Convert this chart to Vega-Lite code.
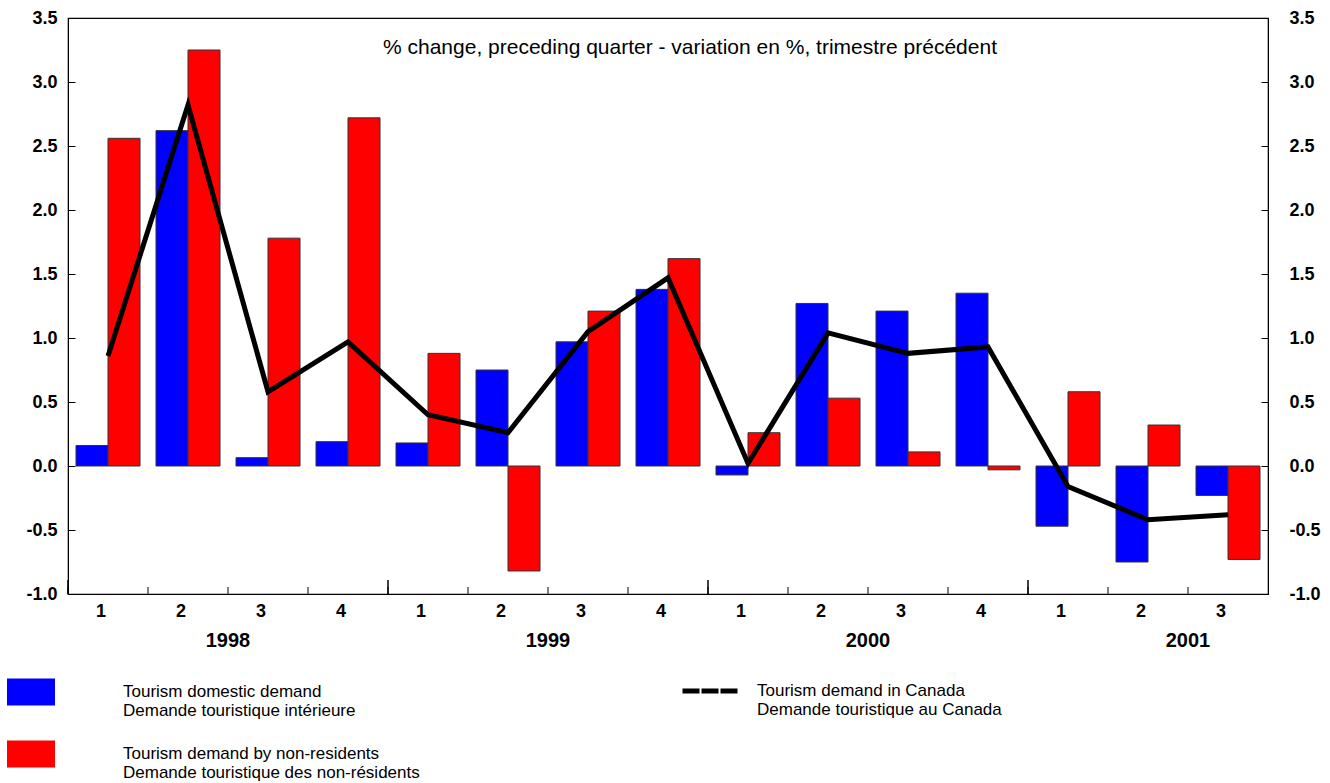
{
  "$schema": "https://vega.github.io/schema/vega-lite/v6.json",
  "width": 1200,
  "height": 576,
  "autosize": {"type": "none"},
  "padding": {"left": 68, "top": 18, "right": 62, "bottom": 189},
  "background": "white",
  "config": {
    "view": {"stroke": "black", "strokeWidth": 1.2},
    "font": "Liberation Sans",
    "axis": {"domainColor": "black", "tickColor": "black", "labelColor": "black", "labelFont": "Liberation Sans", "labelFontWeight": "bold", "grid": false}
  },
  "title": {
    "text": "% change, preceding quarter - variation en %, trimestre précédent",
    "font": "Liberation Sans",
    "fontSize": 21,
    "fontWeight": "normal",
    "color": "black",
    "anchor": "middle",
    "offset": -49,
    "dx": 22
  },
  "datasets": {
    "bars": [
      {"period": "1998 Q1", "series": "Tourism domestic demand\nDemande touristique intérieure", "value": 0.16},
      {"period": "1998 Q2", "series": "Tourism domestic demand\nDemande touristique intérieure", "value": 2.62},
      {"period": "1998 Q3", "series": "Tourism domestic demand\nDemande touristique intérieure", "value": 0.065},
      {"period": "1998 Q4", "series": "Tourism domestic demand\nDemande touristique intérieure", "value": 0.19},
      {"period": "1999 Q1", "series": "Tourism domestic demand\nDemande touristique intérieure", "value": 0.18},
      {"period": "1999 Q2", "series": "Tourism domestic demand\nDemande touristique intérieure", "value": 0.75},
      {"period": "1999 Q3", "series": "Tourism domestic demand\nDemande touristique intérieure", "value": 0.97},
      {"period": "1999 Q4", "series": "Tourism domestic demand\nDemande touristique intérieure", "value": 1.38},
      {"period": "2000 Q1", "series": "Tourism domestic demand\nDemande touristique intérieure", "value": -0.07},
      {"period": "2000 Q2", "series": "Tourism domestic demand\nDemande touristique intérieure", "value": 1.27},
      {"period": "2000 Q3", "series": "Tourism domestic demand\nDemande touristique intérieure", "value": 1.21},
      {"period": "2000 Q4", "series": "Tourism domestic demand\nDemande touristique intérieure", "value": 1.35},
      {"period": "2001 Q1", "series": "Tourism domestic demand\nDemande touristique intérieure", "value": -0.47},
      {"period": "2001 Q2", "series": "Tourism domestic demand\nDemande touristique intérieure", "value": -0.75},
      {"period": "2001 Q3", "series": "Tourism domestic demand\nDemande touristique intérieure", "value": -0.23},
      {"period": "1998 Q1", "series": "Tourism demand by non-residents\nDemande touristique des non-résidents", "value": 2.56},
      {"period": "1998 Q2", "series": "Tourism demand by non-residents\nDemande touristique des non-résidents", "value": 3.25},
      {"period": "1998 Q3", "series": "Tourism demand by non-residents\nDemande touristique des non-résidents", "value": 1.78},
      {"period": "1998 Q4", "series": "Tourism demand by non-residents\nDemande touristique des non-résidents", "value": 2.72},
      {"period": "1999 Q1", "series": "Tourism demand by non-residents\nDemande touristique des non-résidents", "value": 0.88},
      {"period": "1999 Q2", "series": "Tourism demand by non-residents\nDemande touristique des non-résidents", "value": -0.82},
      {"period": "1999 Q3", "series": "Tourism demand by non-residents\nDemande touristique des non-résidents", "value": 1.21},
      {"period": "1999 Q4", "series": "Tourism demand by non-residents\nDemande touristique des non-résidents", "value": 1.62},
      {"period": "2000 Q1", "series": "Tourism demand by non-residents\nDemande touristique des non-résidents", "value": 0.26},
      {"period": "2000 Q2", "series": "Tourism demand by non-residents\nDemande touristique des non-résidents", "value": 0.53},
      {"period": "2000 Q3", "series": "Tourism demand by non-residents\nDemande touristique des non-résidents", "value": 0.11},
      {"period": "2000 Q4", "series": "Tourism demand by non-residents\nDemande touristique des non-résidents", "value": -0.03},
      {"period": "2001 Q1", "series": "Tourism demand by non-residents\nDemande touristique des non-résidents", "value": 0.58},
      {"period": "2001 Q2", "series": "Tourism demand by non-residents\nDemande touristique des non-résidents", "value": 0.32},
      {"period": "2001 Q3", "series": "Tourism demand by non-residents\nDemande touristique des non-résidents", "value": -0.73}
    ],
    "line": [
      {"period": "1998 Q1", "value": 0.86},
      {"period": "1998 Q2", "value": 2.82},
      {"period": "1998 Q3", "value": 0.58},
      {"period": "1998 Q4", "value": 0.97},
      {"period": "1999 Q1", "value": 0.40},
      {"period": "1999 Q2", "value": 0.26},
      {"period": "1999 Q3", "value": 1.05},
      {"period": "1999 Q4", "value": 1.47},
      {"period": "2000 Q1", "value": 0.02},
      {"period": "2000 Q2", "value": 1.04},
      {"period": "2000 Q3", "value": 0.88},
      {"period": "2000 Q4", "value": 0.93},
      {"period": "2001 Q1", "value": -0.16},
      {"period": "2001 Q2", "value": -0.42},
      {"period": "2001 Q3", "value": -0.38}
    ],
    "years": [
      {"year": "1998", "start": "1998 Q1", "anchor": "1998 Q2"},
      {"year": "1999", "start": "1999 Q1", "anchor": "1999 Q2"},
      {"year": "2000", "start": "2000 Q1", "anchor": "2000 Q2"},
      {"year": "2001", "start": "2001 Q1", "anchor": "2001 Q2"}
    ]
  },
  "layer": [
    {
      "data": {"name": "bars"},
      "mark": {"type": "bar", "stroke": "#333333", "strokeWidth": 1},
      "encoding": {
        "x": {
          "field": "period",
          "type": "ordinal",
          "sort": null,
          "scale": {
            "domain": ["1998 Q1","1998 Q2","1998 Q3","1998 Q4","1999 Q1","1999 Q2","1999 Q3","1999 Q4","2000 Q1","2000 Q2","2000 Q3","2000 Q4","2001 Q1","2001 Q2","2001 Q3"],
            "paddingInner": 0.2,
            "paddingOuter": 0.1
          },
          "axis": {
            "title": null,
            "orient": "bottom",
            "labelExpr": "split(datum.label, ' Q')[1]",
            "labelAngle": 0,
            "labelFontSize": 18,
            "labelOffset": -7,
            "labelPadding": 8,
            "ticks": false,
            "domain": true
          }
        },
        "xOffset": {
          "field": "series",
          "sort": ["Tourism domestic demand\nDemande touristique intérieure", "Tourism demand by non-residents\nDemande touristique des non-résidents"]
        },
        "y": {
          "field": "value",
          "type": "quantitative",
          "scale": {"domain": [-1, 3.5], "nice": false, "zero": false},
          "axis": {
            "title": null,
            "orient": "left",
            "values": [-1, -0.5, 0, 0.5, 1, 1.5, 2, 2.5, 3, 3.5],
            "format": ".1f",
            "labelExpr": "replace(datum.label, '−', '-')",
            "labelFontSize": 18,
            "tickSize": -7,
            "labelPadding": 18
          }
        },
        "color": {
          "field": "series",
          "type": "nominal",
          "scale": {
            "domain": ["Tourism domestic demand\nDemande touristique intérieure", "Tourism demand by non-residents\nDemande touristique des non-résidents"],
            "range": ["#0000ff", "#ff0000"]
          },
          "legend": {
            "title": null,
            "orient": "none",
            "legendX": -61,
            "legendY": 650,
            "padding": 0,
            "symbolType": "M-1,-0.5625H1V0.5625H-1Z",
            "symbolSize": 2304,
            "symbolStrokeWidth": 0,
            "symbolOpacity": 1,
            "labelOffset": 68,
            "labelFont": "Liberation Sans",
            "labelFontSize": 17,
            "labelColor": "black",
            "labelLimit": 0,
            "labelExpr": "split(datum.label, '\\n')",
            "rowPadding": 11,
            "encode": {"labels": {"update": {"lineHeight": {"value": 19}, "dy": {"value": -1}}}}
          }
        }
      }
    },
    {
      "data": {"name": "line"},
      "mark": {"type": "rule", "color": "black", "strokeWidth": 1},
      "encoding": {
        "x": {"field": "period", "type": "ordinal", "sort": null, "bandPosition": -0.125},
        "y": {"datum": -1, "type": "quantitative", "axis": null},
        "y2": {"datum": -0.945}
      }
    },
    {
      "data": {"name": "years"},
      "mark": {"type": "rule", "color": "black", "strokeWidth": 1.5},
      "encoding": {
        "x": {"field": "start", "type": "ordinal", "sort": null, "bandPosition": -0.125},
        "y": {"datum": -1, "type": "quantitative", "axis": null},
        "y2": {"datum": -0.89}
      }
    },
    {
      "mark": {"type": "rule", "color": "black", "strokeWidth": 2.5},
      "encoding": {"y": {"datum": 0, "type": "quantitative", "axis": null}}
    },
    {
      "data": {"name": "line"},
      "mark": {"type": "line", "strokeWidth": 5, "strokeJoin": "miter"},
      "encoding": {
        "x": {"field": "period", "type": "ordinal", "sort": null},
        "y": {
          "field": "value",
          "type": "quantitative",
          "axis": {
            "title": null,
            "orient": "right",
            "values": [-1, -0.5, 0, 0.5, 1, 1.5, 2, 2.5, 3, 3.5],
            "format": ".1f",
            "labelExpr": "replace(datum.label, '−', '-')",
            "labelFontSize": 18,
            "tickSize": -7,
            "labelPadding": 28
          }
        },
        "stroke": {
          "datum": "Tourism demand in Canada\nDemande touristique au Canada",
          "type": "nominal",
          "scale": {"range": ["black"]},
          "legend": {
            "title": null,
            "orient": "none",
            "legendX": 612,
            "legendY": 643,
            "padding": 0,
            "symbolType": "stroke",
            "symbolSize": 3025,
            "symbolStrokeWidth": 5,
            "symbolDash": [17, 2],
            "labelOffset": 17,
            "labelFont": "Liberation Sans",
            "labelFontSize": 17,
            "labelColor": "black",
            "labelLimit": 0,
            "labelExpr": "split(datum.label, '\\n')",
            "encode": {"labels": {"update": {"lineHeight": {"value": 19}}}}
          }
        }
      }
    },
    {
      "data": {"name": "years"},
      "mark": {"type": "text", "font": "Liberation Sans", "fontWeight": "bold", "fontSize": 20, "color": "black", "baseline": "middle", "align": "center"},
      "encoding": {
        "x": {"field": "anchor", "type": "ordinal", "sort": null, "bandPosition": 1.125},
        "y": {"datum": -1.37, "type": "quantitative", "axis": null},
        "text": {"field": "year"}
      }
    }
  ],
  "resolve": {"axis": {"y": "independent"}}
}
